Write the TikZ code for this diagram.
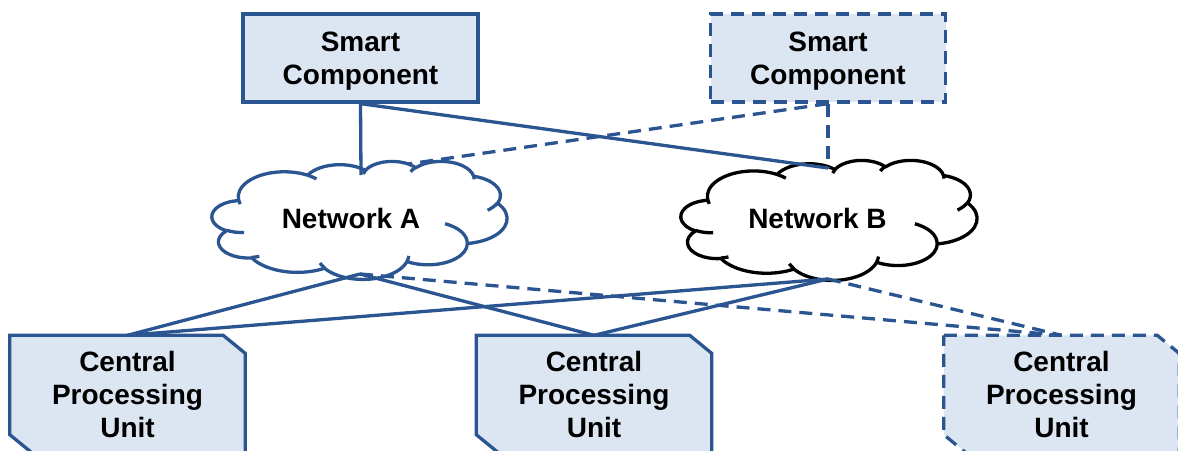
\documentclass[tikz,border=0pt]{standalone}
\usepackage{fontspec}
\setmainfont{Liberation Sans}
\usetikzlibrary{backgrounds}
\definecolor{cblue}{HTML}{2B5591}
\definecolor{cfill}{HTML}{DCE6F2}
\newcommand\cloudarc[4]{%
  \pgfextra{%
    \pgfmathsetmacro\cldA{#3}%
    \pgfmathsetmacro\cldB{#3+#4}%
    \pgfmathsetmacro\cldTa{atan2(#1*sin(\cldA),#2*cos(\cldA))}%
    \pgfmathsetmacro\cldTb{atan2(#1*sin(\cldB),#2*cos(\cldB))}%
    \pgfmathsetmacro\cldD{\cldTb-(\cldTa)}%
    \pgfmathsetmacro\cldD{ifthenelse(\cldD<0,\cldD+360,\cldD)}%
    \pgfmathsetmacro\cldTe{\cldTa+\cldD}%
  }%
  arc[start angle=\cldTa, end angle=\cldTe, x radius=#1/100, y radius=#2/100]%
}
\newcommand\pptcloud[5]{%
  \begin{scope}[shift={(#2,#3)}, xscale=#4/432, yscale=#5/432]
    \path[#1, fill=white] (39.00,143.70)
      \cloudarc{6753}{9190}{-190.4875}{123.7805}
      \cloudarc{5333}{7267}{-144.1024}{89.9452}
      \cloudarc{4365}{5945}{-145.8079}{99.7230}
      \cloudarc{4857}{6595}{-130.9861}{117.2417}
      \cloudarc{5333}{7273}{-78.7089}{109.0269}
      \cloudarc{6775}{9220}{-46.2673}{130.2690}
      \cloudarc{5785}{7867}{0.6250}{114.0333}
      \cloudarc{6752}{9215}{22.4516}{115.1726}
      \cloudarc{7720}{10543}{66.2426}{75.7110}
      \cloudarc{4360}{5918}{-274.9421}{146.7356}
      \cloudarc{4345}{5945}{-246.8285}{152.5189}
      -- cycle;
    \path[#1]
      (46.93,261.77) \cloudarc{4345}{5945}{86.7420}{26.4295}
      (69.28,348.99) \cloudarc{4360}{5918}{73.6105}{11.4475}
      (164.78,390.90) \cloudarc{6752}{9215}{137.6242}{14.0811}
      (288.27,347.51) \cloudarc{6752}{9215}{6.4533}{15.9984}
      (341.29,229.54) \cloudarc{5785}{7867}{-70.2924}{70.9174}
      (417.98,153.54) \cloudarc{5333}{7273}{30.3180}{27.7515}
      (383.24,54.26) \cloudarc{4857}{6595}{-13.7443}{14.8589}
      (290.78,39.52) \cloudarc{4857}{6595}{-149.1815}{18.1954}
      (221.41,47.20) \cloudarc{4365}{5945}{-163.4943}{17.6864}
      (140.00,51.92) \cloudarc{6753}{9190}{-66.7070}{12.3194}
      (41.27,157.89) \cloudarc{6753}{9190}{157.6544}{11.8582};
  \end{scope}}
\tikzset{
  lbl/.style={font=\bfseries\fontsize{28}{33}\selectfont, align=center, text=black, inner sep=0pt},
  scbox/.style={lbl, text depth=0pt, draw=cblue, fill=cfill, line width=3.3pt, minimum width=235pt, minimum height=88pt},
  dashline/.style={dash pattern=on 13pt off 8pt},
  cpubox/.style={lbl, minimum width=235pt, minimum height=117pt},
  cpuline/.style={draw=cblue, fill=cfill, line width=3.3pt, line join=miter},
  conn/.style={draw=cblue, line width=3.3pt},
  cloudA/.style={draw=cblue, line width=3.3pt, line join=round},
  cloudB/.style={draw=black, line width=3.3pt, line join=round},
}
\begin{document}
\begin{tikzpicture}[x=1pt, y=-1pt]
\useasboundingbox (0,0) rectangle (1178,450);
\clip (0,0) rectangle (1178,450);

% clouds
\pptcloud{cloudA}{212}{161}{295}{118}
\pptcloud{cloudB}{681}{160}{296}{120}
\node[lbl] (netA) at (351,218) {Network A};
\node[lbl] (netB) at (817.5,218) {Network B};
\coordinate (aTop) at (361,175);
\coordinate (aTopR) at (408,164);
\coordinate (aBot) at (360,274);
\coordinate (bTop) at (828,168);
\coordinate (bBot) at (828,279);

% boxes
\node[scbox] (sc1) at (360.5,58) {Smart\\Component};
\node[scbox, dashline] (sc2) at (828,58) {Smart\\Component};
\node[cpubox] (cpu1) at (127.5,394) {Central\\Processing\\Unit};
\node[cpubox] (cpu2) at (594,394) {Central\\Processing\\Unit};
\node[cpubox] (cpu3) at (1061.5,394) {Central\\Processing\\Unit};

\begin{scope}[on background layer]
  \foreach \c/\st in {cpu1/solid, cpu2/solid, cpu3/dashline}{
    \path[cpuline, \st] (\c.north west) -- ([xshift=-22pt]\c.north east)
      -- ([yshift=-18pt]\c.north east) -- (\c.south east)
      -- ([xshift=22pt]\c.south west) -- ([yshift=18pt]\c.south west) -- cycle;
  }
\end{scope}

% connectors
\draw[conn] (sc1.south) -- (aTop);
\draw[conn] (sc1.south) -- (bTop);
\draw[conn, dashline] (sc2.south) -- (bTop);
\draw[conn, dashline] (sc2.south) -- (aTopR);
\draw[conn] (aBot) -- (cpu1.north);
\draw[conn] (aBot) -- (cpu2.north);
\draw[conn, dashline] (aBot) -- (cpu3.north);
\draw[conn] (bBot) -- (cpu1.north);
\draw[conn] (bBot) -- (cpu2.north);
\draw[conn, dashline] (bBot) -- (cpu3.north);
\end{tikzpicture}
\end{document}
